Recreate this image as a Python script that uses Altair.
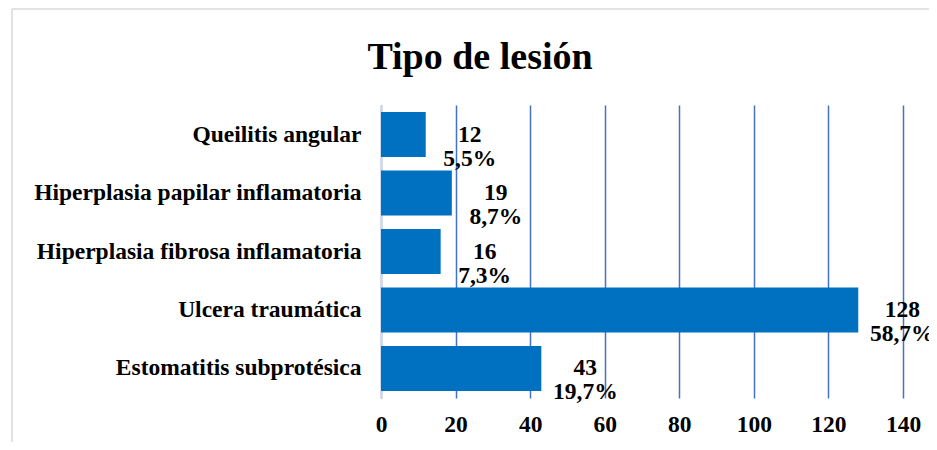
import altair as alt
import pandas as pd

categories = [
    "Queilitis angular",
    "Hiperplasia papilar inflamatoria",
    "Hiperplasia fibrosa inflamatoria",
    "Ulcera traumática",
    "Estomatitis subprotésica",
]
counts = [12, 19, 16, 128, 43]
percents = ["5,5%", "8,7%", "7,3%", "58,7%", "19,7%"]
x_ticks = [0, 20, 40, 60, 80, 100, 120, 140]

df = pd.DataFrame({
    "cat": categories,
    "n": counts,
    "label": [f"{c}\n{p}" for c, p in zip(counts, percents)],
})

FONT = "'Liberation Serif', 'Times New Roman', serif"

y_enc = alt.Y(
    "cat:N",
    sort=categories,
    title=None,
    scale=alt.Scale(paddingInner=0.23, paddingOuter=0.12),
    axis=alt.Axis(
        labelFont=FONT, labelFontSize=23.5, labelFontWeight="bold",
        labelColor="black", labelPadding=20, ticks=False,
        domainColor="#d9d9d9", domainWidth=1.5, labelLimit=400,
    ),
)
x_enc = alt.X(
    "n:Q",
    title=None,
    scale=alt.Scale(domain=[0, 140], nice=False),
    axis=alt.Axis(
        values=x_ticks, labelFont=FONT, labelFontSize=23.5,
        labelFontWeight="bold", labelColor="black", labelPadding=14,
        labelFlush=False, ticks=False, domain=False, grid=True,
        gridColor="#4472C4", gridWidth=1.5,
    ),
)

bars = alt.Chart(df).mark_bar(color="#0070C0").encode(x=x_enc, y=y_enc)

labels = alt.Chart(df).mark_text(
    font=FONT, fontSize=23.5, fontWeight="bold", color="black",
    align="center", baseline="middle", dx=44, lineBreak="\n", lineHeight=24,
).encode(x="n:Q", y=alt.Y("cat:N", sort=categories), text="label:N")

frame_df = pd.DataFrame({"k": [0]})
frame_v = alt.Chart(frame_df).mark_rule(color="#d9d9d9", strokeWidth=1.5).encode(
    x=alt.value(-369), y=alt.value(-96), y2=alt.value(400)
)
frame_h = alt.Chart(frame_df).mark_rule(color="#d9d9d9", strokeWidth=1.5).encode(
    x=alt.value(-369), x2=alt.value(560), y=alt.value(-96)
)

chart = alt.layer(frame_v, frame_h, bars, labels).properties(
    width=522,
    height=293,
    autosize=alt.AutoSizeParams(type="none"),
    padding={"left": 373, "top": 97, "right": 26, "bottom": 44},
    title=alt.TitleParams(
        "Tipo de lesión", font=FONT, fontSize=38, fontWeight="bold",
        color="black", anchor="middle", dx=-162, baseline="alphabetic",
        offset=0, dy=99,
    ),
).configure_view(stroke=None)

chart.save("out.html", embed_options={"renderer": "svg", "actions": False})
